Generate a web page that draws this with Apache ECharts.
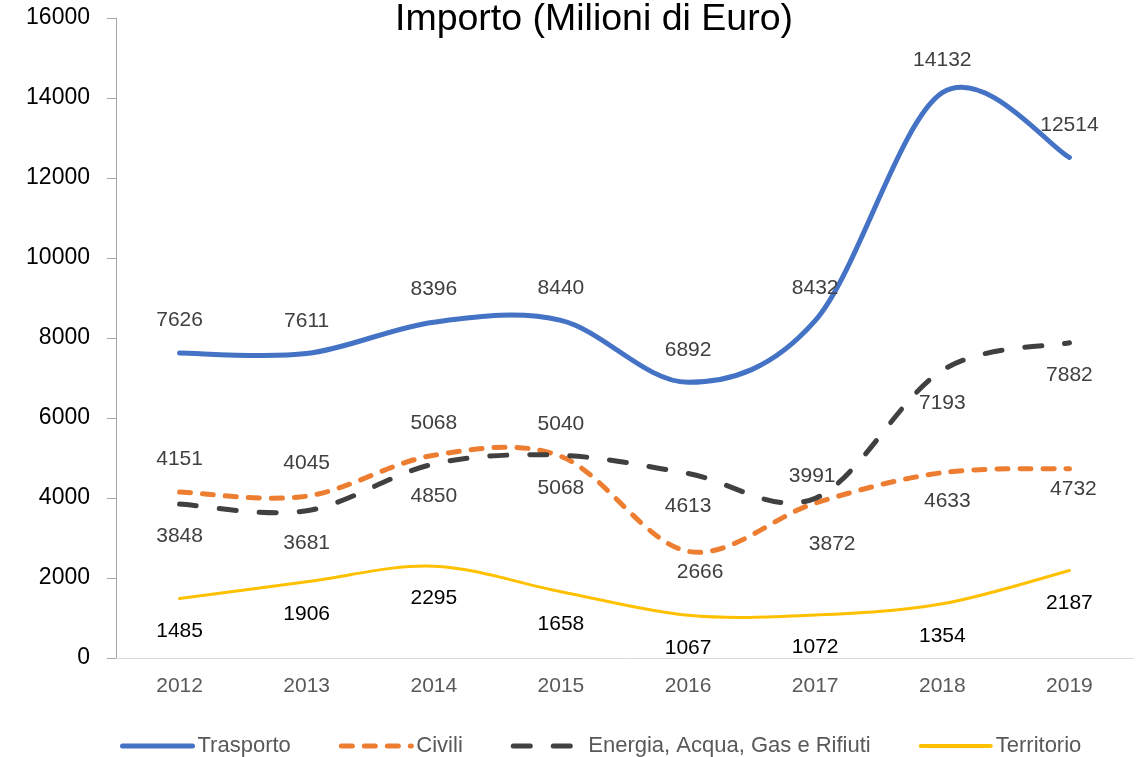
<!DOCTYPE html>
<html>
<head>
<meta charset="utf-8">
<title>Importo (Milioni di Euro)</title>
<script src="https://cdn.jsdelivr.net/npm/echarts@6/dist/echarts.min.js"></script>
<style>
  html, body { margin: 0; padding: 0; background: #fff; }
  #chart { width: 1140px; height: 757px; }
</style>
</head>
<body>
<div id="chart"></div>
<script type="text/javascript">
// data
const years = ["2012", "2013", "2014", "2015", "2016", "2017", "2018", "2019"];
const trasporto = [7626, 7611, 8396, 8440, 6892, 8432, 14132, 12514];
const civili = [4151, 4045, 5068, 5040, 2666, 3872, 4633, 4732];
const energia = [3848, 3681, 4850, 5068, 4613, 3991, 7193, 7882];
const territorio = [1485, 1906, 2295, 1658, 1067, 1072, 1354, 2187];

// where each value label sits (Excel placed some by hand)
const civiliLabelPos = ["top", "top", "top", "top", "bottom", "bottom", "bottom", "bottom"];
const civiliLabelDist = [22, 22, 22, 22, 10, 31, 18, 10];
const civiliLabelShift = [0, 0, 0, 0, 12, 17, 5, 4];
const energiaLabelPos = ["bottom", "bottom", "bottom", "bottom", "bottom", "top", "bottom", "bottom"];
const energiaLabelDist = [22, 22, 22, 22, 22, 12, 22, 22];
const energiaLabelShift = [0, 0, 0, 0, 0, -3, 0, 0];

const FONT = "'Liberation Sans', Arial, sans-serif";

function withLabels(values, pos, dist, shift) {
  return values.map((v, i) => ({
    value: v,
    label: { position: pos[i], distance: dist[i], offset: [shift[i], 0] }
  }));
}

// Excel-style smoothing (Catmull-Rom, tangent = (next - prev) / 6), done in pixel space
function smoothCurve(values, color, width, dash) {
  return {
    type: "custom",
    silent: true,
    animation: false,
    data: values.map((v, i) => [i, v]),
    renderItem: function (params, api) {
      if (params.dataIndex !== 0) return;
      const p = values.map((v, i) => api.coord([i, v]));
      let d = "M" + p[0][0] + " " + p[0][1];
      for (let i = 0; i < p.length - 1; i++) {
        const a = p[Math.max(i - 1, 0)];
        const b = p[i];
        const c = p[i + 1];
        const e = p[Math.min(i + 2, p.length - 1)];
        const c1x = b[0] + (c[0] - a[0]) / 6;
        const c1y = b[1] + (c[1] - a[1]) / 6;
        const c2x = c[0] - (e[0] - b[0]) / 6;
        const c2y = c[1] - (e[1] - b[1]) / 6;
        d += " C" + c1x + " " + c1y + " " + c2x + " " + c2y + " " + c[0] + " " + c[1];
      }
      return {
        type: "path",
        shape: { pathData: d },
        style: {
          fill: "none",
          stroke: color,
          lineWidth: width,
          lineDash: dash,
          lineCap: "round",
          lineJoin: "round"
        }
      };
    }
  };
}

// invisible line series: carries the labels and the legend entry
function labelSeries(name, data, color, labelColor, labelPos) {
  return {
    name: name,
    type: "line",
    data: data,
    symbol: "circle",
    symbolSize: 0,
    lineStyle: { color: color, width: 0, opacity: 0 },
    itemStyle: { color: color },
    label: {
      show: true,
      position: labelPos,
      distance: 22,
      color: labelColor,
      fontFamily: FONT,
      fontSize: 21,
      formatter: function (p) { return String(p.value); }
    },
    z: 3,
    animation: false
  };
}

function legendItem(name, color, width, dash) {
  return {
    name: name,
    itemStyle: { opacity: 0 },
    lineStyle: { color: color, width: width, type: dash, opacity: 1, cap: "round" }
  };
}

const chart = echarts.init(document.getElementById("chart"));

chart.setOption({
  backgroundColor: "#fff",
  title: {
    text: "Importo (Milioni di Euro)",
    left: 395,
    top: 1,
    padding: 0,
    textStyle: {
      fontFamily: FONT,
      fontSize: 37.5,
      fontWeight: "normal",
      color: "#000",
      lineHeight: 38
    }
  },
  grid: {
    left: 116,
    right: 7,
    top: 18,
    bottom: 99,
    containLabel: false
  },
  legend: {
    left: 120,
    top: 735,
    padding: 0,
    itemWidth: 70,
    itemHeight: 22,
    itemGap: 48,
    selectedMode: false,
    textStyle: { fontFamily: FONT, fontSize: 22, color: "#595959" },
    data: [
      legendItem("Trasporto", "#4472C4", 5, "solid"),
      legendItem("Civili", "#ED7D31", 5, [11, 12]),
      legendItem("Energia, Acqua, Gas e Rifiuti", "#404040", 5, [17, 23]),
      legendItem("Territorio", "#FFC000", 4, "solid")
    ]
  },
  xAxis: {
    type: "category",
    data: years,
    boundaryGap: true,
    axisLine: { lineStyle: { color: "#d9d9d9", width: 1 } },
    axisTick: { show: false },
    axisLabel: { margin: 18, fontFamily: FONT, fontSize: 21, color: "#595959" },
    splitLine: { show: false }
  },
  yAxis: {
    type: "value",
    min: 0,
    max: 16000,
    interval: 2000,
    axisLine: { show: true, lineStyle: { color: "#a6a6a6", width: 1 } },
    axisTick: { show: true, length: 9, lineStyle: { color: "#a6a6a6" } },
    axisLabel: {
      margin: 26,
      fontFamily: FONT,
      fontSize: 23,
      color: "#000",
      formatter: function (v) { return String(v); }
    },
    splitLine: { show: false }
  },
  series: [
    smoothCurve(trasporto, "#4472C4", 5, null),
    smoothCurve(civili, "#ED7D31", 5, [11, 12]),
    smoothCurve(energia, "#404040", 5, [17, 23]),
    smoothCurve(territorio, "#FFC000", 3, null),
    labelSeries("Trasporto", trasporto, "#4472C4", "#404040", "top"),
    labelSeries("Civili", withLabels(civili, civiliLabelPos, civiliLabelDist, civiliLabelShift), "#ED7D31", "#404040", "top"),
    labelSeries("Energia, Acqua, Gas e Rifiuti", withLabels(energia, energiaLabelPos, energiaLabelDist, energiaLabelShift), "#404040", "#404040", "bottom"),
    labelSeries("Territorio", territorio, "#FFC000", "#000", "bottom")
  ]
});
</script>
</body>
</html>
